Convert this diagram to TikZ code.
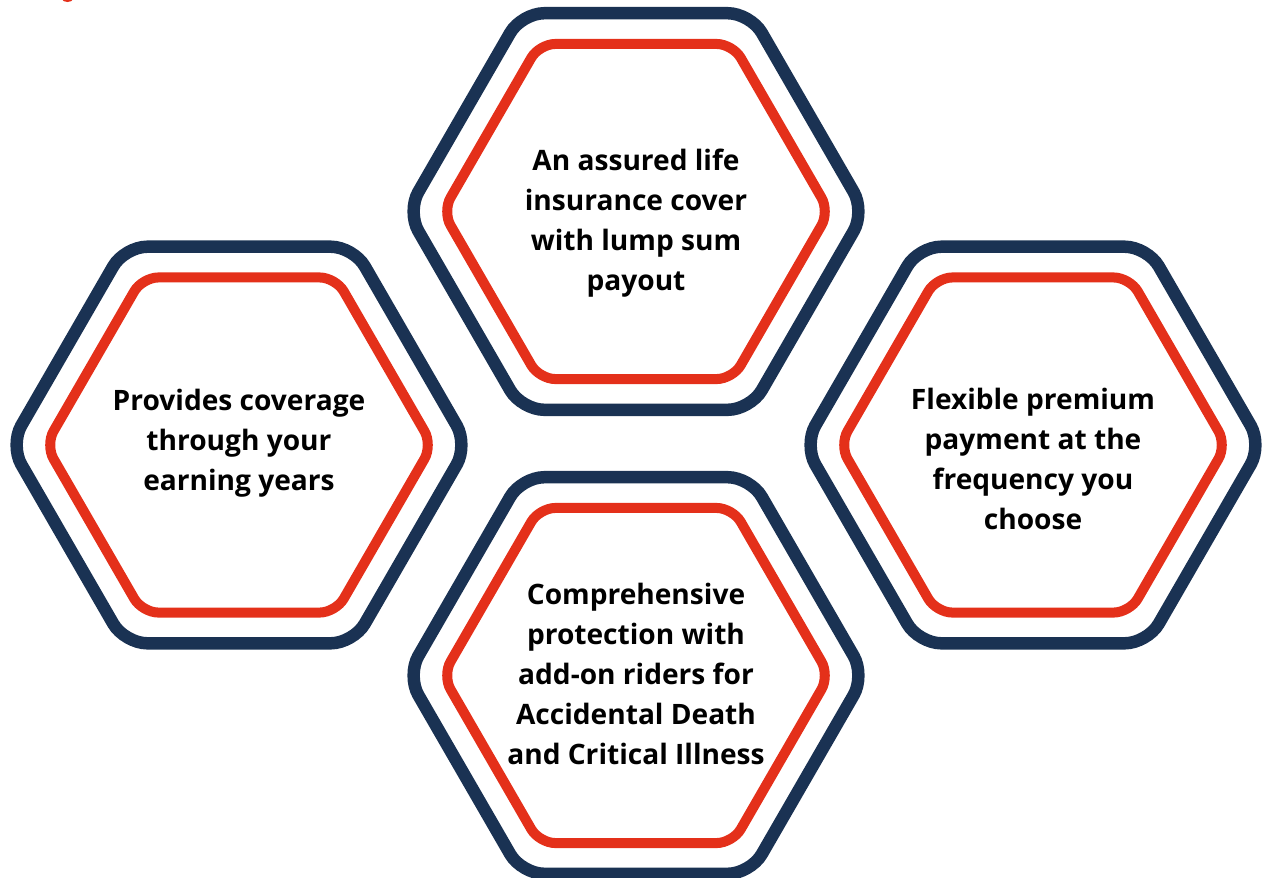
\documentclass[tikz,border=0pt]{standalone}
\usepackage{fontspec}
\setmainfont{Open Sans}
\usepackage{tikz}
\usetikzlibrary{shapes.geometric}
\usetikzlibrary{positioning}
\definecolor{hexnavy}{HTML}{1A3253}
\definecolor{hexred}{HTML}{E4301A}
\tikzset{outerhex/.style = {regular polygon, regular polygon sides = 6,
                            minimum size = 9.16cm, draw = hexnavy,
                            line width = 7.1pt, rounded corners = 0.45cm},
         innerhex/.style = {regular polygon, regular polygon sides = 6,
                            minimum size = 7.74cm, draw = hexred,
                            line width = 5.7pt, rounded corners = 0.32cm},
         hextext/.style = {align = center, inner sep = 0pt,
                           font = \fontsize{16}{22.7}\selectfont\bfseries}}

\begin{document}
\begin{tikzpicture}[x = 0.02cm, y = -0.02cm]
      \useasboundingbox (0, 0) rectangle (1265, 877);
      \fill [hexred] (67.5, -1) ellipse [x radius = 5.5, y radius = 3];
      \node [outerhex] (cover rim) at (636, 211.5) {};
      \node [innerhex] (cover) at (cover rim) {};
      \node [hextext] (cover text) at (636, 223) {An assured life\\insurance cover\\with lump sum\\payout};
      \node [outerhex] (years rim) at (239, 445) {};
      \node [innerhex] (years) at (years rim) {};
      \node [hextext] (years text) at (239, 443) {Provides coverage\\through your\\earning years};
      \node [outerhex] (premium rim) at (1033, 445) {};
      \node [innerhex] (premium) at (premium rim) {};
      \node [hextext] (premium text) at (1033, 459) {Flexible premium\\payment at the\\frequency you\\choose};
      \node [outerhex] (riders rim) at (636, 675.5) {};
      \node [innerhex] (riders) at (riders rim) {};
      \node [hextext] (riders text) at (636, 674) {Comprehensive\\protection with\\add-on riders for\\Accidental Death\\and Critical Illness};
    \end{tikzpicture}
\end{document}
